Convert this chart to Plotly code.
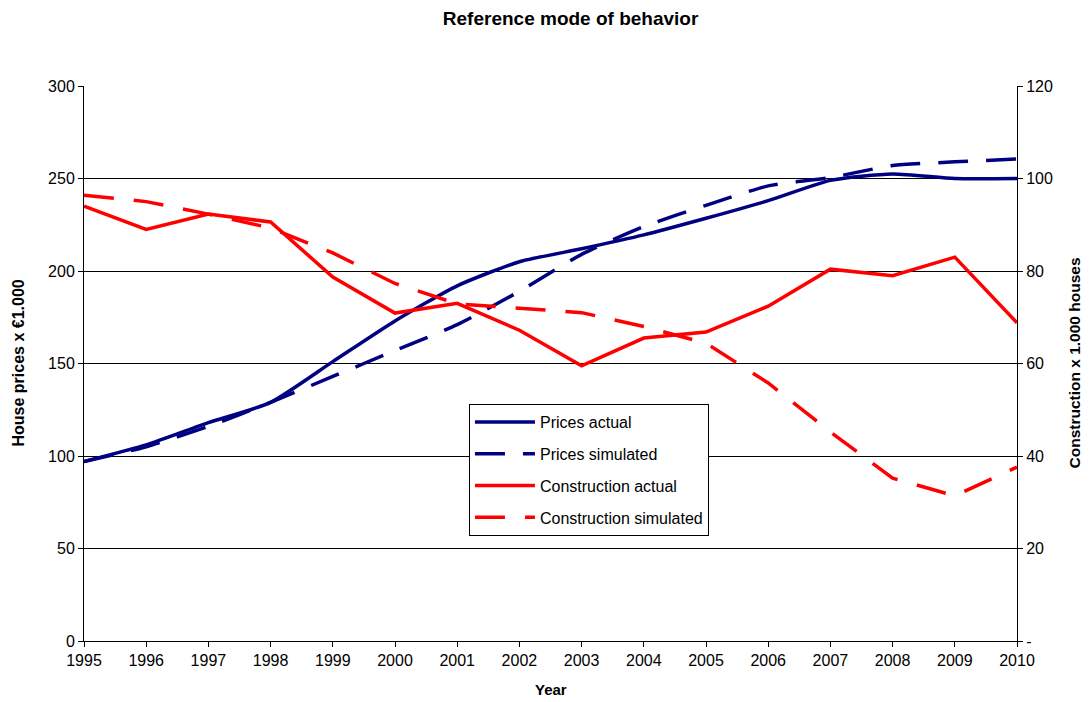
import plotly.graph_objects as go

years = list(range(1995, 2011))
prices_actual = [97, 106, 118, 129, 151, 173, 192, 205, 212, 219.5, 228.5, 238, 249, 252.5, 250, 250]
prices_simulated = [97, 105, 116, 129, 143, 157, 171, 189, 209, 224, 235.5, 246, 250.5, 257, 259, 260.5]
construction_actual = [94, 89, 92.3, 90.6, 78.7, 70.9, 73, 67.2, 59.5, 65.5, 66.8, 72.4, 80.4, 79, 83, 68.8]
construction_simulated = [96.4, 95, 92.3, 89.3, 83.9, 77.3, 72.9, 72, 71, 68, 64.4, 55.8, 45.2, 35.2, 31.4, 37.6]

left_ticks = [0, 50, 100, 150, 200, 250, 300]
right_ticks = [0, 20, 40, 60, 80, 100, 120]
right_ticktext = ["-", "20", "40", "60", "80", "100", "120"]

NAVY = "#000080"
RED = "#FF0000"
FONT = "Arial, Liberation Sans, sans-serif"

fig = go.Figure()
fig.add_trace(go.Scatter(x=years, y=prices_actual, name="Prices actual", mode="lines",
                         line=dict(color=NAVY, width=3.5, shape="spline", smoothing=0.6),
                         legendgroup="a"))
fig.add_trace(go.Scatter(x=years, y=prices_simulated, name="Prices simulated", mode="lines",
                         line=dict(color=NAVY, width=3.5, dash="30px,18px", shape="spline", smoothing=0.6),
                         legendgroup="b"))
fig.add_trace(go.Scatter(x=years, y=construction_actual, name="Construction actual", mode="lines",
                         line=dict(color=RED, width=3.5), yaxis="y2", legendgroup="c"))
fig.add_trace(go.Scatter(x=years, y=construction_simulated, name="Construction simulated", mode="lines",
                         line=dict(color=RED, width=3.5, dash="30px,20px"), yaxis="y2", legendgroup="d"))

# page body has an 8px margin; size the figure so the plot area lands where the reference has it
fig.update_layout(
    width=1084, height=694,
    margin=dict(l=76, r=75, t=78, b=61),
    paper_bgcolor="white", plot_bgcolor="white",
    font=dict(family=FONT, size=16, color="black"),
    title=dict(text="<b>Reference mode of behavior</b>", x=0.519, xref="container", xanchor="center",
               y=1 - 10 / 694, yref="container", yanchor="middle", font=dict(size=19)),
    showlegend=True,
    legend=dict(x=0.4126, y=0.427, xanchor="left", yanchor="top", bgcolor="white",
                bordercolor="black", borderwidth=1, font=dict(size=16),
                tracegroupgap=8, traceorder="grouped", itemwidth=60),
    xaxis=dict(range=[1995, 2010], tickmode="array", tickvals=years, ticks="outside", ticklen=5,
               tickcolor="black", showline=True, linecolor="black", linewidth=1,
               showgrid=False, zeroline=False, tickfont=dict(size=16)),
    yaxis=dict(range=[0, 300], tickmode="array", tickvals=left_ticks, ticks="outside", ticklen=5,
               tickcolor="black", showline=True, linecolor="black", linewidth=1,
               showgrid=True, gridcolor="black", gridwidth=1, zeroline=False, tickfont=dict(size=16)),
    yaxis2=dict(range=[0, 120], overlaying="y", side="right", tickmode="array", tickvals=right_ticks,
                ticktext=right_ticktext, ticks="outside", ticklen=5, tickcolor="black",
                showline=True, linecolor="black", linewidth=1, showgrid=False, zeroline=False,
                tickfont=dict(size=16)),
    annotations=[
        dict(text="<b>Year</b>", x=0.5, y=-0.088, xref="paper", yref="paper", showarrow=False,
             xanchor="center", yanchor="middle", font=dict(size=15)),
        dict(text="<b>House prices x €1.000</b>", x=0, xshift=-66, xref="paper", y=0.5, yref="paper",
             showarrow=False, textangle=-90, font=dict(size=16), xanchor="center", yanchor="middle"),
        dict(text="<b>Construction x 1.000 houses</b>", x=1, xshift=57, xref="paper", y=0.5, yref="paper",
             showarrow=False, textangle=-90, font=dict(size=15.5), xanchor="center", yanchor="middle"),
    ],
)

fig.write_html("out.html")
